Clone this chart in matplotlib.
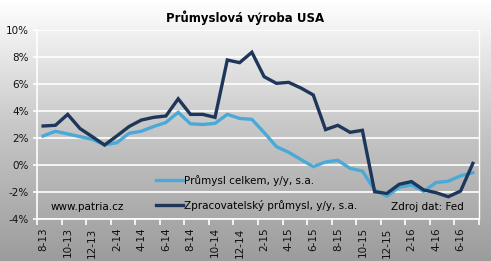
import matplotlib
matplotlib.use("Agg")
import matplotlib.pyplot as plt
import numpy as np

# data (y/y %, s.a.), monthly 8-2013 .. 7-2016
mesice = ["8-13", "9-13", "10-13", "11-13", "12-13",
          "1-14", "2-14", "3-14", "4-14", "5-14", "6-14", "7-14", "8-14", "9-14", "10-14", "11-14", "12-14",
          "1-15", "2-15", "3-15", "4-15", "5-15", "6-15", "7-15", "8-15", "9-15", "10-15", "11-15", "12-15",
          "1-16", "2-16", "3-16", "4-16", "5-16", "6-16", "7-16"]
prumysl_celkem = [2.15, 2.5, 2.3, 2.1, 1.9, 1.5, 1.65, 2.35, 2.5, 2.85, 3.15, 3.9,
                  3.05, 3.0, 3.08, 3.75, 3.45, 3.38, 2.4, 1.36, 0.94, 0.4, -0.12,
                  0.22, 0.35, -0.25, -0.45, -1.85, -2.3, -1.65, -1.48, -1.95,
                  -1.3, -1.2, -0.8, -0.57]
zpracovatelsky = [2.89, 2.94, 3.75, 2.7, 2.1, 1.48, 2.15, 2.85, 3.33, 3.53, 3.63, 4.9,
                  3.75, 3.75, 3.53, 7.78, 7.58, 8.35, 6.54, 6.05, 6.12, 5.7, 5.19,
                  2.62, 2.94, 2.42, 2.57, -1.98, -2.1, -1.43, -1.23, -1.85,
                  -2.05, -2.35, -1.93, 0.12]

C_LIGHT = '#4aa9d6'
C_DARK = '#1d365a'

fig = plt.figure(figsize=(4.91, 2.61), dpi=100)

# gradient pozadi (nahore bila, dole seda)
bg = fig.add_axes([0, 0, 1, 1], zorder=-10)
grad = np.linspace(0.0, 1.0, 256).reshape(-1, 1)
bg.imshow(grad, aspect='auto', cmap=matplotlib.colors.LinearSegmentedColormap.from_list(
    'g', ['#9c9c9c', '#c6c6c6', '#ffffff']), extent=[0, 1, 0, 1], origin='lower')
bg.axis('off')

ax = fig.add_axes([37/491, 1-219/261, 442/491, 189/261])
ax.patch.set_alpha(0)

x = np.arange(len(mesice))
ax.plot(x, prumysl_celkem, color=C_LIGHT, lw=2.4, solid_joinstyle='miter',
        label='Průmysl celkem, y/y, s.a.', zorder=3)
ax.plot(x, zpracovatelsky, color=C_DARK, lw=2.4, solid_joinstyle='miter',
        label='Zpracovatelský průmysl, y/y, s.a.', zorder=4)

ax.set_xlim(-0.5, len(mesice) - 0.5)
ax.set_ylim(-4, 10)
ax.set_yticks(range(-4, 11, 2))
ax.set_yticklabels([f"{v}%" for v in range(-4, 11, 2)], fontsize=7.5, color='#111111')
ax.grid(axis='y', color='white', lw=1.2)
ax.set_axisbelow(True)

# tick marks na hranicich kategorii, popisky uprostred
ax.set_xticks(np.arange(-0.5, len(mesice), 2))
ax.set_xticklabels([])
ax.set_xticks(x[::2], minor=True)
ax.set_xticklabels(mesice[::2], minor=True, rotation=90, fontsize=7.5, color='#111111')
ax.tick_params(axis='x', which='major', length=4, color='white', width=1.2)
ax.tick_params(axis='x', which='minor', length=0, pad=6)
ax.tick_params(axis='y', length=3, color='white', width=1.2, pad=3)

for s in ['left', 'bottom', 'right']:
    ax.spines[s].set_color('white')
    ax.spines[s].set_linewidth(1.2)
ax.spines['right'].set_linewidth(1.0)
ax.spines['top'].set_visible(False)

fig.text(0.5, 1 - 18/261, 'Průmyslová výroba USA', ha='center', va='center',
         fontsize=8.5, fontweight='bold')

leg = ax.legend(loc='upper left', bbox_to_anchor=(0.26, 0.255), frameon=False,
                fontsize=7.5, handlelength=2.6, handletextpad=0.1, labelspacing=1.35,
                borderaxespad=0)
ax.text(0.03, 0.063, 'www.patria.cz', transform=ax.transAxes, fontsize=7.5,
        va='center', ha='left')
ax.text(0.965, 0.063, 'Zdroj dat: Fed', transform=ax.transAxes, fontsize=7.5,
        va='center', ha='right')

fig.savefig('out.png', dpi=100)
